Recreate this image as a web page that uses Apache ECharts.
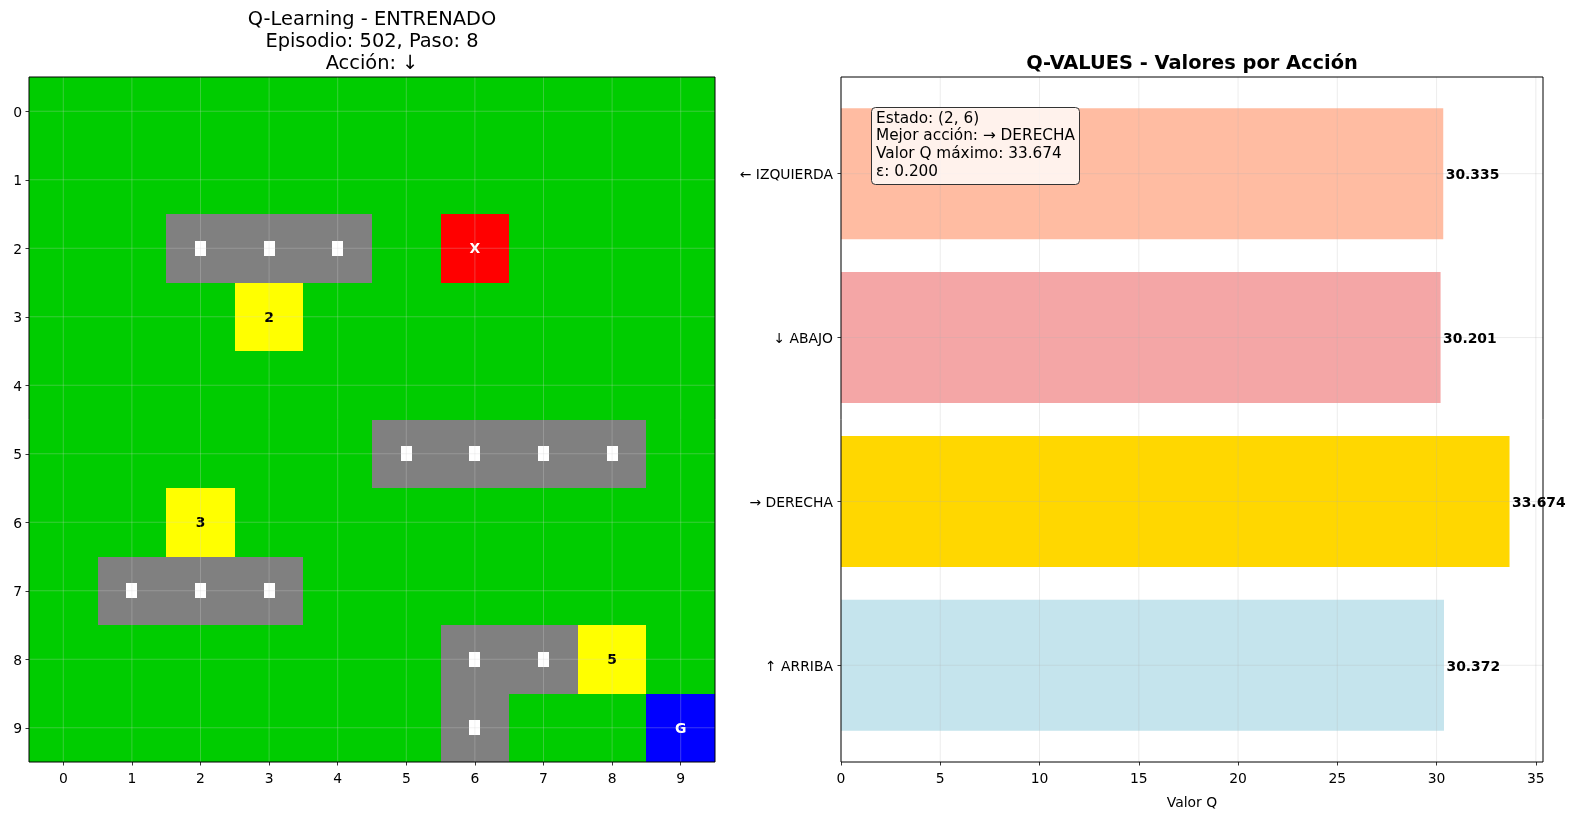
<!DOCTYPE html>
<html><head><meta charset="utf-8">
<script src="https://cdn.jsdelivr.net/npm/echarts@6/dist/echarts.min.js"></script>
<style>html,body{margin:0;padding:0;background:#fff}#c{width:1575px;height:816px}</style>
</head><body><div id="c"></div>
<script>
// ---------- DATA ----------
const gridTicks = [0, 1, 2, 3, 4, 5, 6, 7, 8, 9];
const roadCells = [[2,2],[2,3],[2,4],[5,5],[5,6],[5,7],[5,8],[7,1],[7,2],[7,3],[8,6],[8,7],[9,6]]; // [row, col]
const bonusCells = [[3,3,'2'],[6,2,'3'],[8,8,'5']]; // [row, col, label]
const agentCell = [2, 6, 'X'];
const goalCell = [9, 9, 'G'];
const actions = ['↑ ARRIBA', '→ DERECHA', '↓ ABAJO', '← IZQUIERDA'];
const actionTicks = [0, 1, 2, 3];
const qValues = [30.372, 33.674, 30.201, 30.335];
const qTicks = [0, 5, 10, 15, 20, 25, 30, 35];
const barColors = ['rgba(173,216,230,0.7)', '#FFD700', 'rgba(240,128,128,0.7)', 'rgba(255,160,122,0.7)'];
const leftTitle = 'Q-Learning - ENTRENADO\nEpisodio: 502, Paso: 8\nAcción: ↓';
const rightTitle = 'Q-VALUES - Valores por Acción';
const infoText = 'Estado: (2, 6)\nMejor acción: → DERECHA\nValor Q máximo: 33.674\nε: 0.200';

// ---------- STYLE ----------
const FONT = '"DejaVu Sans", Verdana, sans-serif';
const kindColor = {free: '#00CC00', road: '#808080', bonus: '#FFFF00', agent: '#FF0000', goal: '#0000FF'};
const textColor = {bonus: '#000', agent: '#fff', goal: '#fff'};

// build cell list
const kindMap = {};
roadCells.forEach(([r, c]) => kindMap[r + ',' + c] = {kind: 'road'});
bonusCells.forEach(([r, c, t]) => kindMap[r + ',' + c] = {kind: 'bonus', text: t});
kindMap[agentCell[0] + ',' + agentCell[1]] = {kind: 'agent', text: agentCell[2]};
kindMap[goalCell[0] + ',' + goalCell[1]] = {kind: 'goal', text: goalCell[2]};
const cellList = [];
gridTicks.forEach(r => gridTicks.forEach(c => {
  const k = kindMap[r + ',' + c] || {kind: 'free'};
  cellList.push({value: [c, r], kind: k.kind, text: k.text});
}));

const tickStyle = {show: true, length: 3.5, lineStyle: {color: '#000', width: 0.8}};
const labelStyle = {color: '#000', fontSize: 13.9, fontFamily: FONT};
const yRich = {t: {color: '#000', fontSize: 13.9, fontFamily: FONT, padding: [4, 0, 0, 0]}};

// grid-line helper: draws lines at given x values and y values through the axis scales
function gridLineSeries(xi, xs, ys, color) {
  const n = Math.max(xs.length, ys.length);
  const data = [];
  for (let i = 0; i < n; i++) data.push([i]);
  return {
    type: 'custom', xAxisIndex: xi, yAxisIndex: xi, z: 4, silent: true,
    data: data,
    renderItem: function (params, api) {
      const cs = params.coordSys;
      const i = params.dataIndex;
      const children = [];
      if (i < xs.length) {
        const p = api.coord([xs[i], ys[0]]);
        children.push({type: 'line', shape: {x1: p[0], y1: cs.y, x2: p[0], y2: cs.y + cs.height},
          style: {stroke: color, lineWidth: 0.8}});
      }
      if (i < ys.length) {
        const p = api.coord([xs[0], ys[i]]);
        children.push({type: 'line', shape: {x1: cs.x, y1: p[1], x2: cs.x + cs.width, y2: p[1]},
          style: {stroke: color, lineWidth: 0.8}});
      }
      return {type: 'group', children: children};
    }
  };
}

const chart = echarts.init(document.getElementById('c'), null, {renderer: 'canvas'});
chart.setOption({
  animation: false,
  backgroundColor: '#fff',
  title: [
    {text: leftTitle, left: 372, top: 9, textAlign: 'center', padding: 0,
     textStyle: {fontFamily: FONT, fontSize: 19.4, fontWeight: 'normal', lineHeight: 22, color: '#000'}},
    {text: rightTitle, left: 1192, top: 53, textAlign: 'center', padding: 0,
     textStyle: {fontFamily: FONT, fontSize: 19.4, fontWeight: 'bold', lineHeight: 22, color: '#000'}},
    {text: infoText, left: 871, top: 107, padding: [3, 5, 4, 5],
     backgroundColor: 'rgba(255,255,255,0.8)', borderColor: '#333', borderWidth: 1, borderRadius: 4,
     textStyle: {fontFamily: FONT, fontSize: 15.3, fontWeight: 'normal', lineHeight: 17.6, color: '#000'}}
  ],
  grid: [
    {left: 29, top: 77, width: 686, height: 685, show: true, borderColor: '#000', borderWidth: 1, backgroundColor: 'transparent', z: 10},
    {left: 841, top: 77, width: 702, height: 685, show: true, borderColor: '#000', borderWidth: 1, backgroundColor: 'transparent', z: 10}
  ],
  xAxis: [
    {type: 'value', gridIndex: 0, min: -0.5, max: 9.5, position: 'bottom',
     axisLine: {show: false, onZero: false}, axisTick: Object.assign({customValues: gridTicks}, tickStyle),
     axisLabel: Object.assign({customValues: gridTicks, margin: 10}, labelStyle),
     splitLine: {show: false}},
    {type: 'value', gridIndex: 1, min: 0, max: 35.36, position: 'bottom',
     name: 'Valor Q', nameLocation: 'middle', nameGap: 34, nameTextStyle: labelStyle,
     axisLine: {show: false, onZero: false}, axisTick: Object.assign({customValues: qTicks}, tickStyle),
     axisLabel: Object.assign({customValues: qTicks, margin: 10}, labelStyle),
     splitLine: {show: false}}
  ],
  yAxis: [
    {type: 'value', gridIndex: 0, min: -0.5, max: 9.5, inverse: true, position: 'left',
     axisLine: {show: false, onZero: false}, axisTick: Object.assign({customValues: gridTicks}, tickStyle),
     axisLabel: Object.assign({customValues: gridTicks, margin: 7, rich: yRich,
       formatter: v => '{t|' + v + '}'}, labelStyle),
     splitLine: {show: false}},
    {type: 'value', gridIndex: 1, min: -0.59, max: 3.59, position: 'left',
     axisLine: {show: false, onZero: false}, axisTick: Object.assign({customValues: actionTicks}, tickStyle),
     axisLabel: Object.assign({customValues: actionTicks, margin: 8, rich: yRich,
       formatter: v => '{t|' + actions[Math.round(v)] + '}'}, labelStyle),
     splitLine: {show: false}}
  ],
  series: [
    {
      type: 'custom', xAxisIndex: 0, yAxisIndex: 0, z: 2,
      data: cellList.map(c => c.value),
      renderItem: function (params, api) {
        const cell = cellList[params.dataIndex];
        const c = api.value(0), r = api.value(1);
        const a = api.coord([c - 0.5, r - 0.5]), b = api.coord([c + 0.5, r + 0.5]);
        const x1 = Math.round(Math.min(a[0], b[0])), x2 = Math.round(Math.max(a[0], b[0]));
        const y1 = Math.round(Math.min(a[1], b[1])), y2 = Math.round(Math.max(a[1], b[1]));
        const ctr = api.coord([c, r]);
        const fill = kindColor[cell.kind];
        const children = [{type: 'rect', shape: {x: x1, y: y1, width: x2 - x1, height: y2 - y1},
          style: {fill: fill}}];
        if (cell.kind === 'road') {
          children.push({type: 'rect', shape: {x: Math.round(ctr[0] - 5.5), y: Math.round(ctr[1] - 7.5), width: 11, height: 15},
            style: {fill: '#ffffff'}, z2: 5});
        }
        if (cell.text) {
          children.push({type: 'text', z2: 6, style: {text: cell.text, x: ctr[0], y: ctr[1] + 1.5,
            align: 'center', verticalAlign: 'middle', fill: textColor[cell.kind],
            font: 'bold 13.9px ' + FONT}});
        }
        return {type: 'group', children: children};
      }
    },
    gridLineSeries(0, gridTicks, gridTicks, 'rgba(210,210,210,0.35)'),
    {
      type: 'custom', xAxisIndex: 1, yAxisIndex: 1, z: 2,
      data: qValues.map((v, i) => [v, i]),
      renderItem: function (params, api) {
        const v = api.value(0), i = api.value(1);
        const a = api.coord([0, i + 0.4]), b = api.coord([v, i - 0.4]);
        return {type: 'rect', shape: {x: a[0], y: a[1], width: b[0] - a[0], height: b[1] - a[1]},
          style: {fill: barColors[i]}};
      }
    },
    gridLineSeries(1, qTicks, actionTicks, 'rgba(176,176,176,0.3)'),
    {
      type: 'custom', xAxisIndex: 1, yAxisIndex: 1, z: 8,
      data: qValues.map((v, i) => [v, i]),
      renderItem: function (params, api) {
        const v = api.value(0), i = api.value(1);
        const p = api.coord([v, i]);
        return {type: 'text', style: {text: v.toFixed(3), x: p[0] + 2.5, y: p[1] + 2,
          align: 'left', verticalAlign: 'middle', fill: '#000', font: 'bold 13.9px ' + FONT}};
      }
    }
  ]
});
</script>
</body></html>
